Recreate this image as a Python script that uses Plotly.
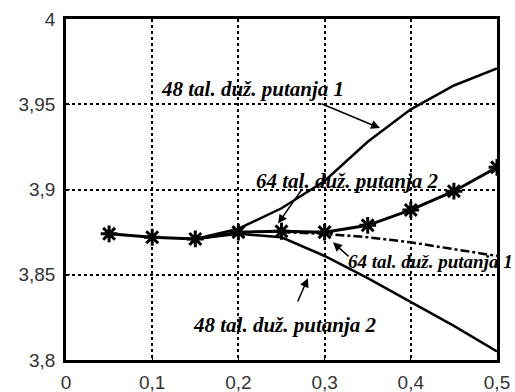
import plotly.graph_objects as go

# Data
x_star = [0.05, 0.1, 0.15, 0.2, 0.25, 0.3, 0.35, 0.4, 0.45, 0.5]
y_star = [3.874, 3.872, 3.871, 3.875, 3.8755, 3.875, 3.879, 3.888, 3.899, 3.913]

x_48p1 = [0.15, 0.2, 0.25, 0.3, 0.35, 0.4, 0.45, 0.5]
y_48p1 = [3.871, 3.877, 3.889, 3.905, 3.928, 3.947, 3.961, 3.971]

x_48p2 = [0.15, 0.2, 0.25, 0.3, 0.35, 0.4, 0.45, 0.5]
y_48p2 = [3.871, 3.874, 3.872, 3.861, 3.848, 3.834, 3.820, 3.805]

x_64p1 = [0.25, 0.3, 0.35, 0.4, 0.45, 0.5]
y_64p1 = [3.875, 3.874, 3.872, 3.869, 3.865, 3.861]

x_ticks = [0, 0.1, 0.2, 0.3, 0.4, 0.5]
x_ticklabels = ["0", "0,1", "0,2", "0,3", "0,4", "0,5"]
y_ticks = [3.8, 3.85, 3.9, 3.95, 4.0]
y_ticklabels = ["3,8", "3,85", "3,9", "3,95", "4"]

labels = ["48 tal. duž. putanja 1", "64 tal. duž. putanja 2",
          "64 tal. duž. putanja 1", "48 tal. duž. putanja 2"]
label_pos = [(0.216, 3.959), (0.326, 3.905), (0.4234, 3.8575), (0.254, 3.8205)]
label_size = [21, 21, 19, 21]
arrows = [((0.2947, 3.9507), (0.3643, 3.936)),
          ((0.275, 3.901), (0.246, 3.880)),
          ((0.3295, 3.860), (0.3097, 3.869)),
          ((0.268, 3.8334), (0.2807, 3.848))]

fig = go.Figure()
fig.add_trace(go.Scatter(x=x_48p1, y=y_48p1, mode="lines",
                         line=dict(color="black", width=2.5), showlegend=False))
fig.add_trace(go.Scatter(x=x_48p2, y=y_48p2, mode="lines",
                         line=dict(color="black", width=2.5), showlegend=False))
fig.add_trace(go.Scatter(x=x_64p1, y=y_64p1, mode="lines",
                         line=dict(color="black", width=2.5, dash="dashdot"), showlegend=False))
fig.add_trace(go.Scatter(x=x_star, y=y_star, mode="lines+markers",
                         line=dict(color="black", width=3),
                         marker=dict(symbol="asterisk-open", size=14,
                                     line=dict(color="black", width=3)),
                         showlegend=False))

for txt, (lx, ly), sz in zip(labels, label_pos, label_size):
    fig.add_annotation(x=lx, y=ly, text="<b><i>" + txt + "</i></b>", showarrow=False,
                       font=dict(family="Liberation Serif", size=sz, color="black"))

for (tail, head) in arrows:
    fig.add_annotation(x=head[0], y=head[1], ax=tail[0], ay=tail[1],
                       xref="x", yref="y", axref="x", ayref="y",
                       text="", showarrow=True, arrowhead=2, arrowsize=1.2,
                       arrowwidth=1.5, arrowcolor="black")

fig.update_xaxes(range=[0, 0.5], tickvals=x_ticks, ticktext=x_ticklabels,
                 showgrid=True, gridcolor="black", griddash="dot", gridwidth=1.5,
                 showline=True, linecolor="black", linewidth=2.5, mirror=True,
                 ticks="inside", ticklen=4, tickcolor="black", zeroline=False,
                 ticklabelstandoff=3, automargin=False,
                 tickfont=dict(family="Liberation Sans", size=19, color="#333"))
fig.update_yaxes(range=[3.8, 4.0], tickvals=y_ticks, ticktext=y_ticklabels,
                 showgrid=True, gridcolor="black", griddash="dot", gridwidth=1.5,
                 showline=True, linecolor="black", linewidth=2.5, mirror=True,
                 ticks="inside", ticklen=4, tickcolor="black", zeroline=False,
                 ticklabelstandoff=4, automargin=False,
                 tickfont=dict(family="Liberation Sans", size=19, color="#333"))

fig.update_layout(width=515, height=392,
                  margin=dict(l=66, r=18, t=19, b=32, autoexpand=False),
                  plot_bgcolor="white", paper_bgcolor="white")

fig.write_html("out.html", config={"displayModeBar": False},
               post_script="document.body.style.margin='0';document.body.style.overflow='hidden';")
